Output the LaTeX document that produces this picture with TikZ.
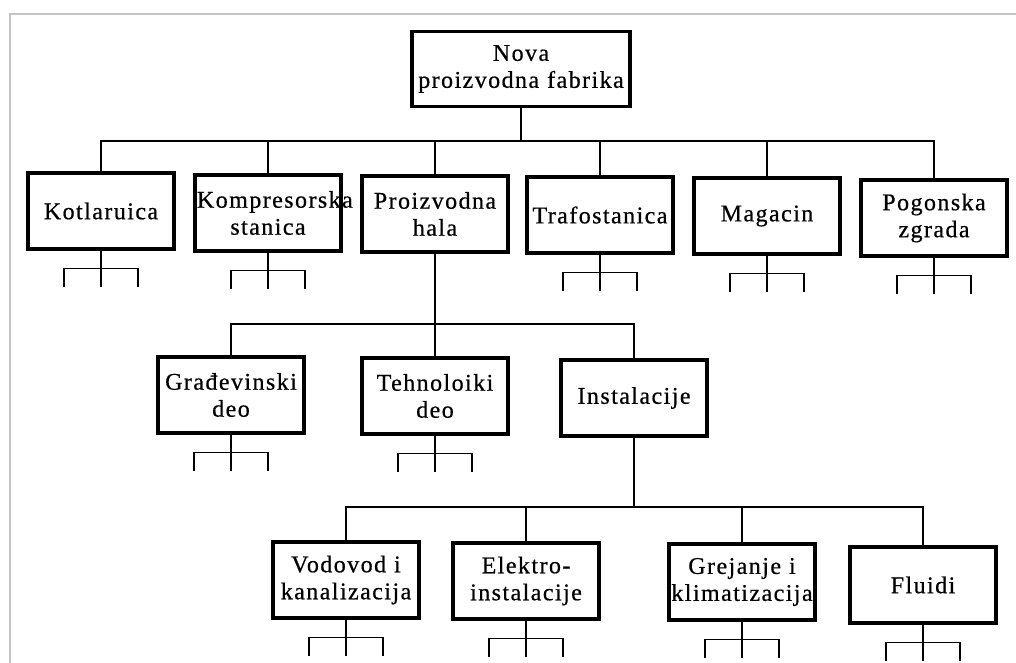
\documentclass[tikz,border=0pt]{standalone}
\usepackage{fontspec}
\setmainfont{Liberation Serif}
\newfontfamily\blokfont[LetterSpace=6,FakeBold=0.6]{Liberation Serif}
\usepackage{tikz}
\definecolor{okvir}{RGB}{195,195,195}

\begin{document}
\begin{tikzpicture}[x=1pt, y=-1pt, line width=1.2pt,
    blok/.style={draw, line width=3.5pt, minimum width=146pt, minimum height=76pt,
        text width=142pt, align=center, inner sep=2pt,
        font=\blokfont\fontsize{24}{27}\selectfont}]
    \useasboundingbox (0,0) rectangle (1016,663);
    \draw[okvir,line width=2pt] (10,663)--(10,14)--(1016,14);
    % vrh
    \node[blok, minimum width=218pt, minimum height=75pt, text width=214pt] (fab) at (521,69) {Nova\\proizvodna fabrika};
    % prvi nivo
    \node[blok] (kotl)  at (101,211) {Kotlaruica};
    \node[blok] (komp)  at (268,213) {Kompresorska\\stanica};
    \node[blok] (proiz) at (435,214) {Proizvodna\\hala};
    \node[blok] (trafo) at (600,215) {Trafostanica};
    \node[blok] (mag)   at (767,216) {Magacin};
    \node[blok] (pog)   at (934,218) {Pogonska\\zgrada};
    % drugi nivo
    \node[blok] (grad)  at (231,395) {Građevinski\\deo};
    \node[blok] (teh)   at (435,396) {Tehnoloiki\\deo};
    \node[blok] (inst)  at (634,398) {Instalacije};
    % treci nivo
    \node[blok] (vod)   at (346,580) {Vodovod i\\kanalizacija};
    \node[blok] (ele)   at (526,581) {Elektro-\\instalacije};
    \node[blok] (grej)  at (742,582) {Grejanje i\\klimatizacija};
    \node[blok] (flu)   at (923,585) {Fluidi};
    % sabirne linije
    \coordinate (b1) at (519,141);
    \coordinate (b2) at (435,324);
    \coordinate (b3) at (634,507);
    \draw (fab.south) -- (fab.south |- b1);
    \draw (kotl.north) |- (pog.north |- b1) -- (pog.north);
    \foreach \n in {komp,proiz,trafo,mag}
        \draw (\n.north) -- (\n.north |- b1);
    \draw (proiz.south) -- (teh.north);
    \draw (grad.north) |- (inst.north |- b2) -- (inst.north);
    \draw (inst.south) -- (inst.south |- b3);
    \draw (vod.north) |- (flu.north |- b3) -- (flu.north);
    \foreach \n in {ele,grej}
        \draw (\n.north) -- (\n.north |- b3);
    % racve ispod blokova
    \foreach \n in {kotl,komp,trafo,mag,pog,grad,teh,vod,ele,grej,flu}
        \draw (\n.south) -- ++(0,36) (\n.south) ++(-37,36) -- ++(0,-18) -- ++(74,0) -- ++(0,18);
\end{tikzpicture}
\end{document}
